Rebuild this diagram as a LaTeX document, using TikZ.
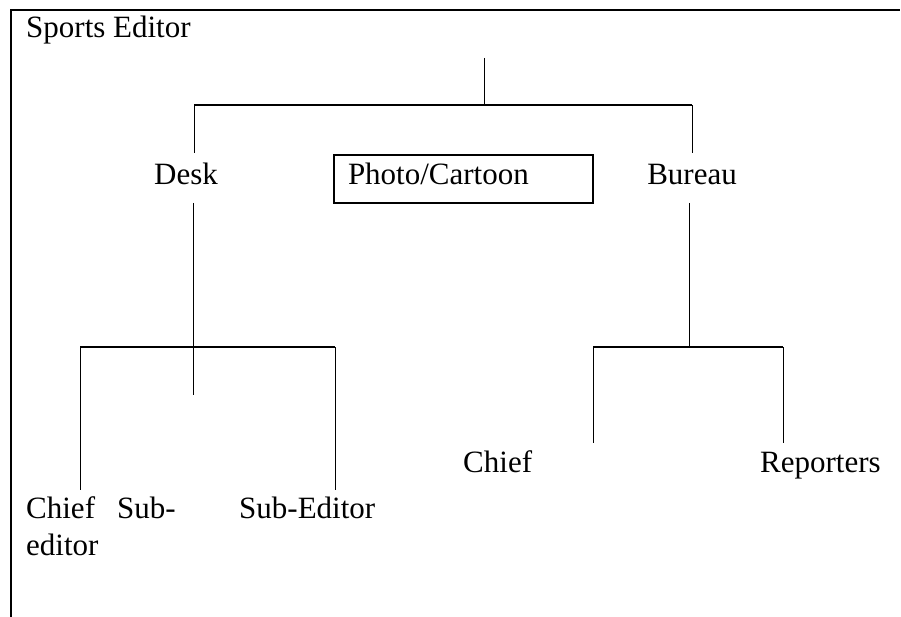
\documentclass[tikz,border=0pt]{standalone}
\usepackage{fontspec}
\setmainfont{Liberation Serif}
\usetikzlibrary{positioning}

\tikzset{
  lbl/.style={font=\fontsize{31}{37}\selectfont, inner sep=0pt},
  link/.style={line width=0.9pt},
  bar/.style={line width=1.7pt},
  frame/.style={line width=1.4pt},
  photobox/.style={lbl, draw, line width=1.4pt, minimum width=259pt, minimum height=48pt,
    text width=231pt, align=left, text height=21pt, text depth=9pt}
}

\begin{document}
\begin{tikzpicture}[x=1pt, y=-1pt]
			\useasboundingbox (0,0) rectangle (901,617);
			%%%%% FRAME %%%%%
			\draw[frame] (10,10) -- (900,10);
			\draw[frame] (11,10) -- (11,617);
			
			%%%%% LABELS %%%%%
			\node[lbl, anchor=base west] (sports) at (26,38) {Sports Editor};
			\node[lbl, anchor=base] (desk) at (186,185) {Desk};
			\node[photobox] (photo) at (463.5,179) {Photo/Cartoon};
			\node[lbl, anchor=base] (bureau) at (692,185) {Bureau};
			
			% base of a two-line node sits on its last line
			\node[lbl, anchor=base west, align=left] (chiefsub) at (26,555) {Chief\hspace{22pt}Sub-\\editor};
			\node[lbl, anchor=base west] (subeditor) at (239,518) {Sub-Editor};
			\node[lbl, anchor=base west] (chief) at (463,472) {Chief};
			\node[lbl, anchor=base west] (reporters) at (760,472) {Reporters};
			
			%%%%% TOP LEVEL %%%%%
			\coordinate (root) at (484,58);
			\coordinate (rootJ) at (484,105);
			\coordinate (deskJ) at (194,105);
			\coordinate (bureauJ) at (692,105);
			\coordinate (deskIn) at (194,153);
			\coordinate (bureauIn) at (692,153);
			
			\draw[link] (root) -- (rootJ);
			\draw[bar] (deskJ) -- (bureauJ);
			\draw[link] (deskJ) -- (deskIn);
			\draw[link] (bureauJ) -- (bureauIn);
			
			%%%%% DESK %%%%%
			\coordinate (deskOut) at (193,203);
			\coordinate (deskJ2) at (193,347);
			\coordinate (deskStub) at (193,395);
			\coordinate (chiefsubJ) at (80,347);
			\coordinate (subeditorJ) at (335,347);
			\coordinate (chiefsubIn) at (80,490);
			\coordinate (subeditorIn) at (335,490);
			
			\draw[link] (deskOut) -- (deskStub);
			\draw[bar] (chiefsubJ) -- (subeditorJ);
			\draw[link] (chiefsubJ) -- (chiefsubIn);
			\draw[link] (subeditorJ) -- (subeditorIn);
			
			%%%%% BUREAU %%%%%
			\coordinate (bureauOut) at (689,203);
			\coordinate (bureauJ2) at (689,347);
			\coordinate (chiefJ) at (593,347);
			\coordinate (reportersJ) at (783,347);
			\coordinate (chiefIn) at (593,443);
			\coordinate (reportersIn) at (783,443);
			
			\draw[link] (bureauOut) -- (bureauJ2);
			\draw[bar] (chiefJ) -- (reportersJ);
			\draw[link] (chiefJ) -- (chiefIn);
			\draw[link] (reportersJ) -- (reportersIn);
\end{tikzpicture}
\end{document}
